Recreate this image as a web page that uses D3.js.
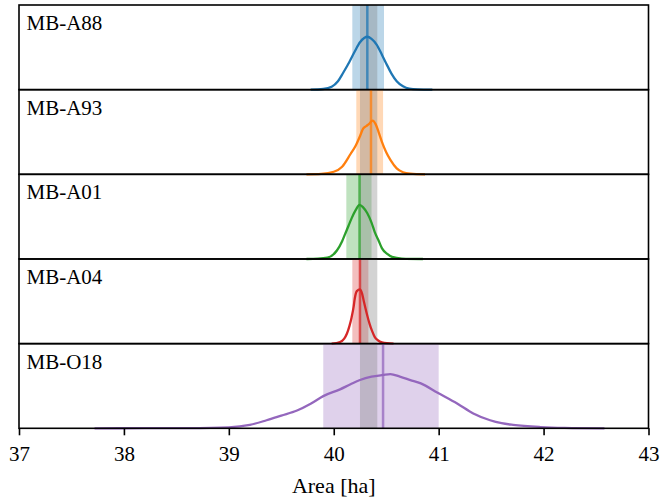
<!DOCTYPE html>
<html lang="en">
<head>
  <meta charset="UTF-8">
  <title>Area distributions</title>
  <script src="https://d3js.org/d3.v7.min.js"></script>
  <style>
    body { margin: 0; background: white; }
    text { font-family: "Liberation Serif", "DejaVu Serif", serif; }
  </style>
</head>
<body>
  <div id="chart"></div>
  <script>
    // Survey names, one panel each
    const surveys = ["MB-A88", "MB-A93", "MB-A01", "MB-A04", "MB-O18"];
    const colors = ["#1f77b4", "#ff7f0e", "#2ca02c", "#d62728", "#9467bd"];

    // Mean area and uncertainty interval (ha)
    const means = [40.32, 40.355, 40.246, 40.25, 40.47];
    const lows = [40.177, 40.215, 40.12, 40.177, 39.90];
    const highs = [40.479, 40.47, 40.36, 40.33, 41.0];

    // Common reference interval (gray)
    const refBand = [40.25, 40.415];

    // Density curves (relative density vs area)
    const kdeX = [
      [39.78, 39.90, 39.98, 40.04, 40.09, 40.15, 40.20, 40.25, 40.29, 40.32, 40.36, 40.41, 40.46, 40.50, 40.55, 40.60, 40.66, 40.72, 40.80, 40.94],
      [39.74, 39.88, 40.00, 40.08, 40.16, 40.21, 40.25, 40.28, 40.31, 40.34, 40.37, 40.40, 40.43, 40.46, 40.50, 40.54, 40.60, 40.66, 40.73, 40.87],
      [39.74, 39.85, 39.94, 40.03, 40.08, 40.11, 40.14, 40.17, 40.21, 40.246, 40.28, 40.32, 40.36, 40.39, 40.43, 40.46, 40.51, 40.555, 40.65, 40.85],
      [39.98, 40.06, 40.10, 40.126, 40.15, 40.17, 40.19, 40.20, 40.22, 40.25, 40.27, 40.285, 40.30, 40.32, 40.34, 40.365, 40.39, 40.42, 40.46, 40.57],
      [37.72, 38.2, 38.6, 39.0, 39.2, 39.36, 39.5, 39.65, 39.78, 39.90, 40.06, 40.16, 40.25, 40.36, 40.47, 40.54, 40.63, 40.73, 40.83, 40.99, 41.18, 41.33, 41.49, 41.6, 41.71, 41.97, 42.2, 42.58]
    ];
    const kdeY = [
      [0, 0.008, 0.035, 0.10, 0.20, 0.33, 0.45, 0.56, 0.61, 0.625, 0.60, 0.53, 0.41, 0.31, 0.19, 0.10, 0.04, 0.012, 0.003, 0],
      [0, 0.005, 0.03, 0.09, 0.24, 0.34, 0.45, 0.54, 0.57, 0.60, 0.635, 0.59, 0.49, 0.38, 0.26, 0.17, 0.07, 0.025, 0.008, 0],
      [0, 0.003, 0.015, 0.10, 0.21, 0.30, 0.39, 0.48, 0.58, 0.64, 0.61, 0.54, 0.43, 0.32, 0.21, 0.125, 0.06, 0.025, 0.005, 0],
      [0, 0.02, 0.06, 0.12, 0.21, 0.31, 0.44, 0.53, 0.62, 0.64, 0.59, 0.51, 0.43, 0.33, 0.24, 0.15, 0.08, 0.04, 0.015, 0],
      [0, 0.001, 0.003, 0.012, 0.04, 0.095, 0.15, 0.21, 0.29, 0.38, 0.46, 0.52, 0.57, 0.61, 0.63, 0.64, 0.61, 0.57, 0.53, 0.42, 0.29, 0.175, 0.095, 0.06, 0.04, 0.015, 0.005, 0]
    ];

    const xTicks = [37, 38, 39, 40, 41, 42, 43];

    const width = 661, height = 497;
    const margin = { top: 5, right: 12.5, bottom: 68.7, left: 19 };
    const innerW = width - margin.left - margin.right;
    const innerH = height - margin.top - margin.bottom;
    const panelH = innerH / surveys.length;

    const svg = d3.select("#chart")
      .append("svg")
      .attr("width", width)
      .attr("height", height);

    const x = d3.scaleLinear().domain([37, 43]).range([margin.left, margin.left + innerW]);

    const line = d3.line().curve(d3.curveMonotoneX);

    surveys.forEach((name, i) => {
      const top = margin.top + i * panelH;
      const y = d3.scaleLinear().domain([0, 1]).range([top + panelH, top]);
      const g = svg.append("g");

      // uncertainty band
      g.append("rect")
        .attr("x", x(lows[i]))
        .attr("width", x(highs[i]) - x(lows[i]))
        .attr("y", top)
        .attr("height", panelH)
        .attr("fill", colors[i])
        .attr("fill-opacity", 0.3);

      // reference band
      g.append("rect")
        .attr("x", x(refBand[0]))
        .attr("width", x(refBand[1]) - x(refBand[0]))
        .attr("y", top)
        .attr("height", panelH)
        .attr("fill", "#808080")
        .attr("fill-opacity", 0.35);

      // mean line
      g.append("line")
        .attr("x1", x(means[i])).attr("x2", x(means[i]))
        .attr("y1", top).attr("y2", top + panelH)
        .attr("stroke", colors[i])
        .attr("stroke-width", 2.5)
        .attr("stroke-opacity", 0.75);

      // density curve
      const pts = kdeX[i].map((v, j) => [x(v), y(kdeY[i][j])]);
      g.append("path")
        .attr("d", line(pts))
        .attr("fill", "none")
        .attr("stroke", colors[i])
        .attr("stroke-width", 2.3);

      // frame
      g.append("rect")
        .attr("x", margin.left)
        .attr("y", top)
        .attr("width", innerW)
        .attr("height", panelH)
        .attr("fill", "none")
        .attr("stroke", "#000")
        .attr("stroke-width", 1.6);

      g.append("text")
        .attr("x", margin.left + 7.5)
        .attr("y", top + 25)
        .attr("font-size", "21px")
        .attr("fill", "#000")
        .text(name);
    });

    // x axis on the bottom panel
    const axis = svg.append("g")
      .attr("transform", `translate(0,${margin.top + innerH})`)
      .call(d3.axisBottom(x).tickValues(xTicks).tickFormat(d3.format("d")).tickSize(7).tickPadding(11));
    axis.select(".domain").remove();
    axis.selectAll(".tick line").attr("stroke", "#000").attr("stroke-width", 1.6);
    axis.selectAll(".tick text")
      .attr("font-size", "21px")
      .attr("font-family", "Liberation Serif, DejaVu Serif, serif")
      .attr("fill", "#000");

    svg.append("text")
      .attr("x", margin.left + innerW / 2)
      .attr("y", 493)
      .attr("text-anchor", "middle")
      .attr("font-size", "22px")
      .attr("fill", "#000")
      .text("Area [ha]");
  </script>
</body>
</html>
